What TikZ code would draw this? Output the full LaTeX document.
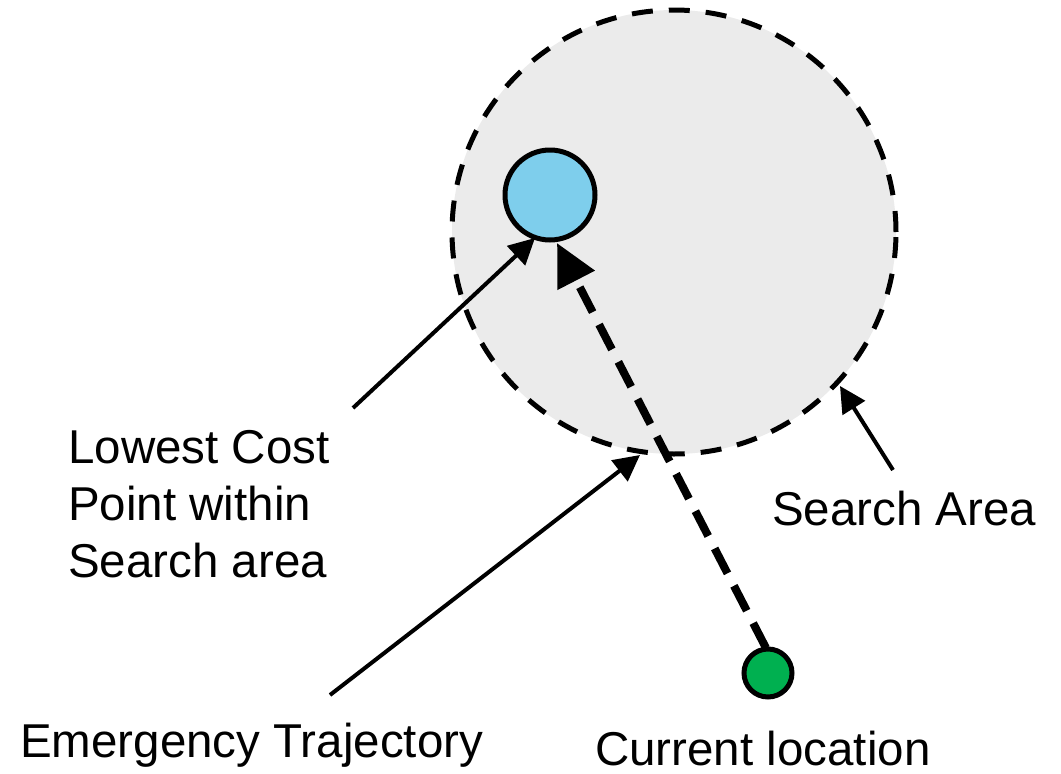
\documentclass[tikz,border=0pt]{standalone}
\usepackage{fontspec}
\setmainfont{Liberation Sans}
\usetikzlibrary{arrows.meta}
\definecolor{areagray}{RGB}{235,235,235}
\definecolor{goalblue}{RGB}{126,206,236}
\definecolor{startgreen}{RGB}{0,176,80}
\begin{document}
\begin{tikzpicture}[x=1pt,y=-1pt,
  lbl/.style={font=\fontsize{47.5}{57}\selectfont, inner sep=0pt, anchor=base west, align=left},
  pointer/.style={line width=4pt, -{Triangle[length=26pt,width=26pt]}},
  traj/.style={line width=8pt, dash pattern=on 28pt off 14pt, -{Triangle[length=42pt,width=40pt]}}]
\useasboundingbox (0,0) rectangle (1061,774);
% search area
\node (area) [circle, draw, fill=areagray, line width=5pt, dash pattern=on 21pt off 16pt,
  minimum size=444pt, inner sep=0pt] at (674,232) {};
% lowest cost point and current location
\node (goal) [circle, draw, fill=goalblue, line width=5pt, minimum size=90pt, inner sep=0pt] at (550,195) {};
\node (start) [circle, draw, fill=startgreen, line width=5pt, minimum size=48pt, inner sep=0pt] at (768,673) {};
% labels (multi-line node: base is the last line)
\node (lowlbl) [lbl] at (68,577) {Lowest Cost\\Point within\\Search area};
\node (arealbl) [lbl] at (772,525) {Search Area};
\node (emlbl) [lbl] at (20,757) {Emergency Trajectory};
\node (curlbl) [lbl] at (595,765) {Current location};
% anchors for pointer tails and tips
\coordinate (p1s) at (353,408);
\coordinate (p1e) at (535,238);
\coordinate (p2s) at (330,695);
\coordinate (p2e) at (640,455);
\coordinate (p3s) at (893,470);
\coordinate (p3e) at (840,386);
\coordinate (trs) at (766,648);
\coordinate (tre) at (557,243);
% connectors
\draw[traj] (trs) -- (tre);
\draw[pointer] (p1s) -- (p1e);
\draw[pointer] (p2s) -- (p2e);
\draw[pointer] (p3s) -- (p3e);
\end{tikzpicture}
\end{document}
